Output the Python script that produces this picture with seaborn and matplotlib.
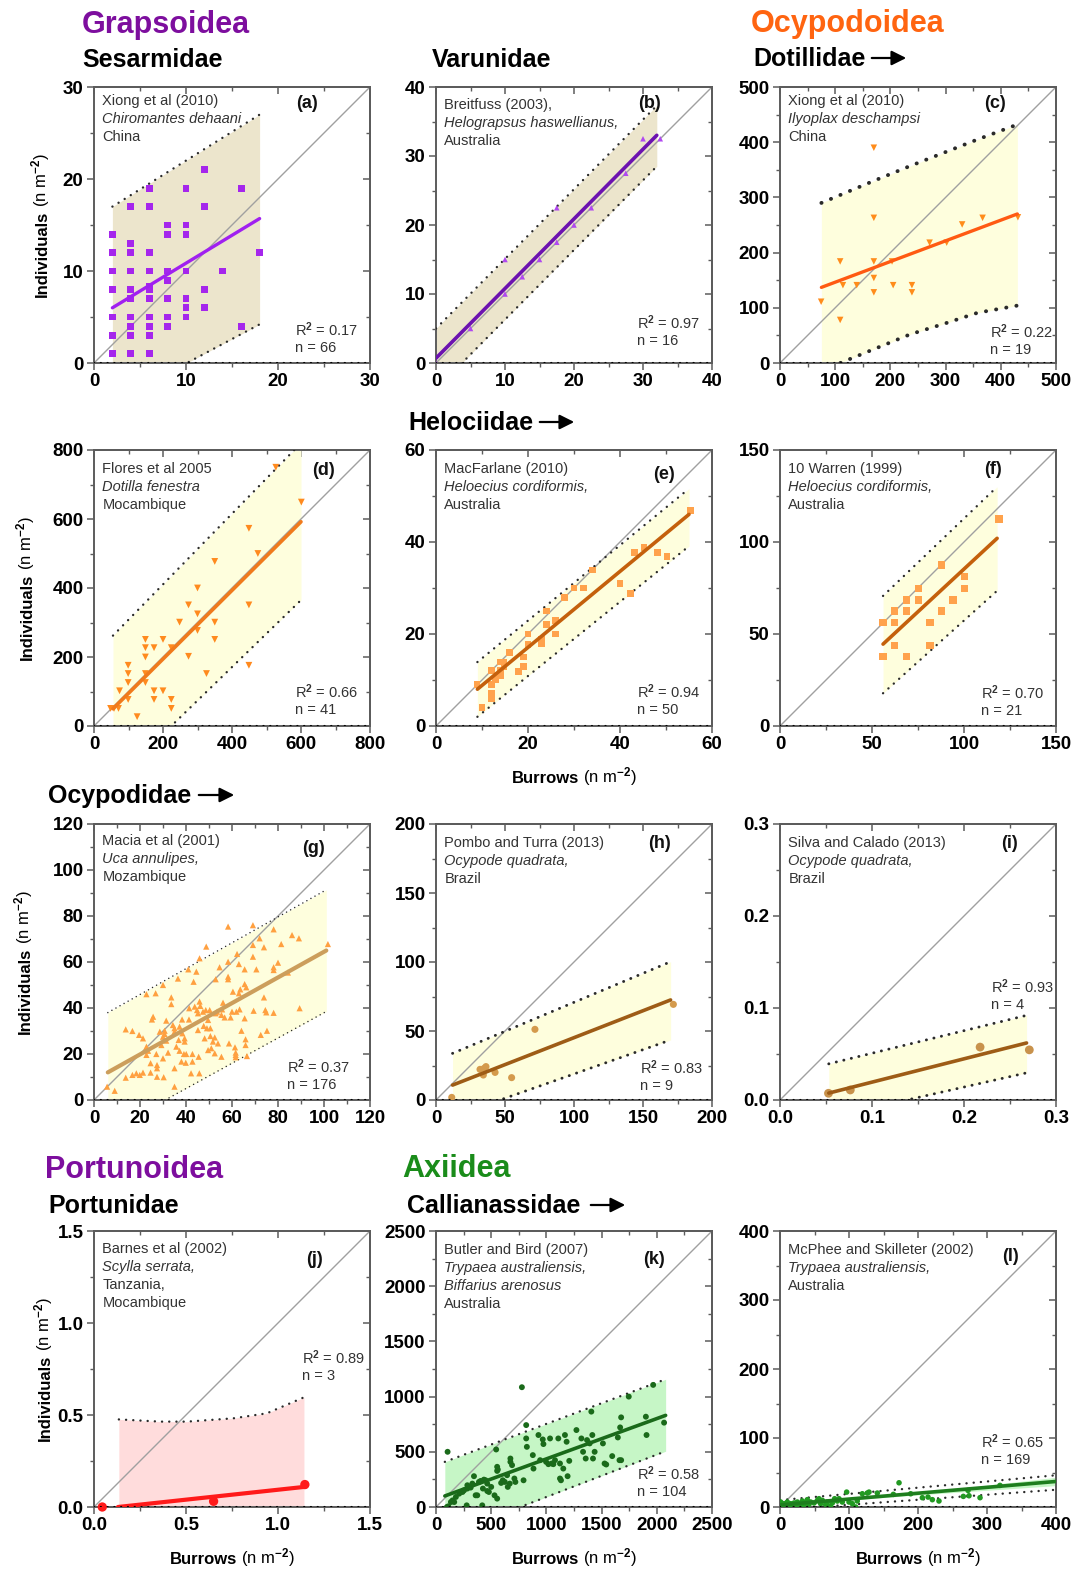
import matplotlib
matplotlib.use('Agg')
import matplotlib.pyplot as plt
import seaborn as sns
from matplotlib.ticker import MultipleLocator, NullFormatter, FormatStrFormatter
from matplotlib.patches import FancyArrowPatch

# ---------------- data ----------------
# (a) Sesarmidae - Xiong et al (2010)
a_pts = [(2, 14), (2, 12), (2, 10), (2, 8), (2, 5), (2, 3), (2, 1),
         (4, 17), (4, 13), (4, 12), (4, 10), (4, 8), (4, 7), (4, 5), (4, 4), (4, 3), (4, 1),
         (6, 19), (6, 17), (6, 12), (6, 10), (6, 8.3), (6, 8), (6, 7), (6, 5), (6, 4), (6, 3), (6, 1),
         (8, 15), (8, 14), (8, 10), (8, 9), (8, 7), (8, 5), (8, 4),
         (10, 19), (10, 15), (10, 14), (10, 10), (10, 7), (10, 6), (10, 5),
         (12, 21), (12, 17), (12, 8), (12, 6), (14, 10), (16, 19), (16, 4), (18, 12)]
a_fit_x, a_fit_y = [2, 18], [6.0, 15.7]
a_band_x, a_upper, a_lower = [2, 18], [17, 27], [-4.3, 4.2]

# (b) Varunidae - Breitfuss (2003)
b_pts = [(0, 0), (5, 5), (10, 15), (10, 10), (12.5, 12.5), (15, 15), (17.5, 22.5), (17.5, 17.5),
         (20, 20), (22.5, 22.5), (27.5, 27.5), (30, 32.5), (32.5, 32.5)]
b_fit_x, b_fit_y = [0, 32], [0.7, 33]
b_band_x, b_upper, b_lower = [0, 32], [5, 37.3], [-3.8, 28.5]

# (c) Dotillidae - Xiong et al (2010)
c_pts = [(74.5, 111), (109, 78), (109, 184), (114, 141), (139, 141), (170, 390), (170, 263),
         (170, 184), (170, 154), (170, 128), (203, 184), (205, 141), (239, 141), (239, 128),
         (271, 218), (302, 218), (330, 251), (367, 263), (431, 264)]
c_fit_x, c_fit_y = [75, 430], [137, 270]
c_band_x = [75, 170, 236, 297, 358, 430]
c_upper = [290, 330, 357, 381, 405, 432]
c_lower = [-14, 25, 52, 71, 91, 104]

# (d) Flores et al 2005
d_pts = [(48, 51), (58, 51), (71, 51), (74, 102), (99, 77), (99, 126), (99, 152), (99, 176),
         (125, 27), (149, 126), (149, 152), (149, 200), (149, 227), (149, 251), (174, 77),
         (174, 102), (174, 227), (200, 102), (200, 251), (224, 51), (224, 77), (224, 227),
         (248, 301), (274, 202), (274, 351), (300, 277), (300, 325), (300, 400), (326, 152),
         (350, 301), (350, 251), (350, 477), (449, 176), (449, 351), (449, 573), (475, 500),
         (527, 750), (601, 649)]
d_fit_x, d_fit_y = [55, 600], [50, 592]
d_band_x, d_upper, d_lower = [55, 600], [262, 820], [-164, 365]

# (e) MacFarlane (2010)
e_pts = [(8.9, 9), (10, 4), (12, 7), (12, 6), (12, 9), (12, 12), (12.9, 10), (13.2, 11),
         (14, 12), (14, 13.9), (14, 11), (14.8, 13), (14.8, 13.9), (16, 15.9), (18, 11.9),
         (19, 13), (19, 15), (20, 17.8), (20, 20), (23, 18), (23, 18.9), (24, 25), (24, 22),
         (26, 20), (26, 22.9), (28, 28), (30, 30), (32, 30), (34, 33.9), (40, 31), (42.2, 28.8),
         (43.2, 37.8), (45.2, 38.8), (48.1, 37.8), (50.2, 36.8), (55.3, 46.9)]
e_fit_x, e_fit_y = [9, 55], [8, 46]
e_band_x, e_upper, e_lower = [9, 55], [13.9, 51.6], [2, 39.1]

# (f) Warren (1999)
f_pts = [(56, 37.7), (56, 56.2), (62.4, 43.7), (62.4, 56.2), (62.4, 62.5), (68.7, 37.7),
         (68.7, 62.5), (68.7, 68.5), (75.1, 68.5), (75.1, 74.8), (81.5, 43.7), (81.5, 56.2),
         (87.6, 62.5), (87.6, 87.5), (94, 68.5), (100.4, 74.8), (100.4, 81.2), (119, 112.5)]
f_fit_x, f_fit_y = [56, 118], [44.5, 102]
f_band_x, f_upper, f_lower = [56, 118], [70.7, 130], [17.8, 73.5]

# (g) Macia et al (2001)
g_pts = [(5.7, 5.8), (9, 4), (13.8, 30.7), (13.8, 9.7), (16.7, 30), (16.7, 10.9), (18.4, 11.6),
         (19.6, 28.3), (19.9, 10.9), (21.3, 26.8), (21.3, 11.9), (22.8, 46), (22.8, 19.6),
         (22.8, 23.2), (23.5, 21.4), (24.6, 16), (24.6, 11.9), (25.2, 35), (25.7, 36.2),
         (26.8, 46.4), (27.1, 20), (27.4, 15.2), (27.4, 13.8), (27.4, 10.1), (28.6, 29.7),
         (29.3, 23.9), (30, 50), (30, 27.5), (30, 18.1), (30.3, 9.9), (30.7, 30.1), (30.7, 28.7),
         (31.4, 34.5), (31.4, 25.8), (32.2, 20.6), (33.6, 44.6), (33.6, 41.7), (34.3, 32.6),
         (35, 31.2), (35, 29.7), (35, 13.8), (35, 5.8), (35.8, 23.2), (36.5, 52.8), (36.8, 26.1),
         (37.2, 31.9), (37.2, 21.4), (38, 16.7), (38.3, 35), (38.4, 29), (39.1, 20), (39.4, 26.8),
         (39.4, 25.4), (39.9, 16.2), (40.1, 20), (41, 56.8), (41.3, 35), (41.4, 39.9), (42.2, 11.6),
         (42.8, 16.7), (42.8, 20), (43.3, 51.4), (43.8, 40.6), (44.5, 55.8), (44.8, 39.1),
         (45.2, 37.7), (45.2, 30.4), (45.5, 18.8), (45.8, 11.6), (45.9, 61.6), (45.9, 42.8),
         (46.2, 40.9), (47.4, 38.4), (47.7, 32.2), (48.1, 26.8), (48.6, 39.1), (48.8, 66.7),
         (49.1, 31.2), (49.6, 34.8), (49.6, 21.7), (50.3, 39.1), (50.6, 31.2), (50.6, 27.8),
         (51, 22.5), (51.7, 25.4), (52.5, 27.2), (52.5, 20.3), (52.9, 52.5), (52.9, 37.7),
         (53.5, 38.4), (53.9, 24.6), (54.6, 57.7), (55.4, 18.8), (55.4, 37), (55.7, 39.4),
         (56.1, 42.3), (56.8, 35.9), (58.3, 75.4), (58.3, 52.5), (58.3, 53.6), (58.3, 60.1),
         (58.7, 24.6), (59.4, 35.9), (60, 38.4), (60.4, 47.1), (61.3, 22.9), (61.6, 20.6),
         (61.6, 19.6), (61.6, 18.6), (61.9, 38.4), (62.2, 63.5), (63, 59.1), (63, 46.4),
         (63.3, 39.4), (63.6, 48.1), (64.1, 30.1), (65.5, 56.8), (65.5, 50.4), (65.5, 35.5),
         (65.9, 26.4), (65.9, 23.9), (66.2, 49), (66.5, 19.1), (69.1, 76), (69.1, 67.4),
         (69.1, 62.3), (69.4, 38.8), (70.6, 56.8), (72, 70.3), (72.5, 28.3), (73.9, 66.4),
         (73.9, 44.6), (74.5, 39.1), (74.9, 38.1), (75.2, 30.1), (78.1, 74.2), (78.1, 57.7),
         (78.1, 56.5), (78.1, 37.9), (80, 59.7), (81.4, 67.8), (84.3, 55.4), (86.1, 71.7),
         (89.1, 70.3), (89.4, 39.9), (101.7, 67.8)]
g_fit_x, g_fit_y = [6, 101], [12, 65]
g_band_x, g_upper, g_lower = [6, 101], [38, 91.4], [-13.7, 38.5]

# (h) Pombo and Turra (2013)
h_pts = [(11.4, 1.9), (31.9, 22.2), (34.3, 18.1), (34.8, 22.9), (36.2, 24.2), (42.8, 20),
         (54.8, 16.2), (71.7, 51.2), (172, 69.3)]
h_fit_x, h_fit_y = [12, 170], [10.8, 72.5]
h_band_x, h_upper, h_lower = [12, 170], [33.8, 100.2], [-12.1, 43.5]

# (i) Silva and Calado (2013)
i_pts = [(0.0527, 0.0073), (0.0764, 0.0109), (0.2175, 0.0575), (0.271, 0.0545)]
i_fit_x, i_fit_y = [0.053, 0.268], [0.0075, 0.062]
i_band_x, i_upper, i_lower = [0.053, 0.268], [0.0393, 0.092], [-0.0193, 0.0295]

# (j) Barnes et al (2002)
j_pts = [(0.045, 0.0), (0.65, 0.031), (1.146, 0.122)]
j_fit_x, j_fit_y = [0.13, 1.15], [0.0, 0.11]
j_band_x = [0.135, 0.361, 0.505, 0.758, 0.939, 1.141]
j_upper = [0.476, 0.464, 0.464, 0.482, 0.509, 0.596]
j_lower = [-0.3, -0.25, -0.24, -0.25, -0.28, -0.35]

# (k) Butler and Bird (2007)
k_pts = [(99, 0), (111, 6), (135, 45), (150, 60), (165, 45), (180, 91), (105, 500), (210, 121),
         (240, 136), (254, 151), (278, 15), (284, 197), (284, 167), (314, 176), (329, 212),
         (344, 279), (359, 106), (374, 106), (389, 227), (404, 236), (419, 15), (425, 167),
         (434, 248), (449, 242), (464, 212), (464, 145), (479, 136), (500, 182), (530, 106),
         (545, 521), (554, 76), (554, 364), (554, 327), (560, 339), (590, 218), (605, 242),
         (623, 227), (644, 288), (650, 182), (668, 212), (674, 439), (674, 409), (689, 379),
         (710, 258), (719, 227), (793, 242), (778, 1085), (817, 621), (817, 742), (823, 545),
         (877, 470), (883, 348), (928, 652), (943, 424), (967, 612), (973, 570), (997, 409),
         (1033, 621), (1018, 388), (1048, 394), (1063, 388), (1078, 424), (1108, 621),
         (1123, 394), (1123, 258), (1132, 242), (1153, 348), (1168, 652), (1183, 591),
         (1192, 279), (1207, 418), (1272, 697), (1317, 621), (1332, 500), (1356, 439),
         (1368, 606), (1392, 576), (1407, 864), (1416, 652), (1422, 439), (1437, 500),
         (1512, 576), (1527, 394), (1542, 385), (1596, 461), (1647, 630), (1662, 424),
         (1677, 424), (1668, 721), (1677, 812), (1746, 1000), (1901, 818), (1907, 652),
         (1967, 1106), (2066, 764)]
k_fit_x, k_fit_y = [80, 2080], [100, 830]
k_band_x, k_upper, k_lower = [80, 2080], [409, 1157], [-262, 505]

# (l) McPhee and Skilleter (2002)
l_pts = [(0, 2.4), (1, 7.2), (3.4, 0), (5.8, 4.8), (8.2, 2.4), (10.6, 7.2), (13, 2.4), (15.5, 4.8),
         (17.9, 1), (20.3, 5.8), (22.7, 2.4), (25.1, 7.2), (27.5, 1), (30, 4.8), (32.4, 8.7),
         (34.8, 2.4), (37.2, 5.8), (39.6, 10.6), (42, 3.8), (44.4, 7.2), (49.3, 5.8), (54.1, 9.6),
         (56.5, 12), (58.9, 4.8), (61.4, 9.6), (66.2, 3.8), (68.6, 7.2), (71, 1), (73.4, 0),
         (75.8, 5.8), (79.2, 12), (83.1, 8.7), (85.5, 12), (90.3, 7.2), (96.6, 21.6), (100, 7.2),
         (104.8, 4.8), (109.7, 0), (112, 8.7), (119.3, 19.2), (126.6, 20.2), (129, 21.6),
         (141, 20.2), (164.3, 18.3), (172.5, 35.1), (189.4, 19.2), (206.3, 13.5), (214.5, 14.4),
         (220.8, 10.6), (230.4, 8.7), (265.7, 15.4), (273.9, 16.3), (272.5, 24), (289.9, 13.5),
         (318.8, 31.3)]
l_fit_x, l_fit_y = [0, 400], [3, 37]
l_band_x, l_upper, l_lower = [0, 400], [10, 46], [-4, 25]
l_conf_x = [0, 60, 200, 400]
l_conf_lo = [1, 7, 17.5, 31]
l_conf_hi = [5, 9.2, 20.5, 43]

# ---------------- panel options ----------------
BEIGE, YELLOW, PINK, GREEN = '#ECE5CC', '#FEFEDD', '#FFDCDC', '#C6F6C6'

panels = [
    dict(key='a', col=0, row=0, pts=a_pts, lim=30, major=10, fmt='%d', marker='s', s=24,
         mc='#A526EC', lc='#A020F0', lw=2.4, fx=a_fit_x, fy=a_fit_y, bx=a_band_x, up=a_upper,
         lo=a_lower, fill=BEIGE, dot=1.7, r2='0.17', n='66', r2pos=(0.73, 0.12), lab=(0.77, 0.94),
         ny=0.948, notes=[('Xiong et al (2010)', 0), ('Chiromantes dehaani', 1), ('China', 0)]),
    dict(key='b', col=1, row=0, pts=b_pts, lim=40, major=10, fmt='%d', marker='^', s=16,
         mc='#B048F0', lc='#6C12B0', lw=2.6, fx=b_fit_x, fy=b_fit_y, bx=b_band_x, up=b_upper,
         lo=b_lower, fill=BEIGE, dot=1.7, r2='0.97', n='16', r2pos=(0.73, 0.145), lab=(0.775, 0.94),
         ny=0.935, notes=[('Breitfuss (2003),', 0), ('Helograpsus haswellianus,', 1), ('Australia', 0)]),
    dict(key='c', col=2, row=0, pts=c_pts, lim=500, major=100, fmt='%d', marker='v', s=22,
         mc='#FF8C1A', lc='#FF5A12', lw=2.4, fx=c_fit_x, fy=c_fit_y, bx=c_band_x, up=c_upper,
         lo=c_lower, fill=YELLOW, dot=2.8, r2='0.22', n='19', r2pos=(0.76, 0.112), lab=(0.78, 0.94),
         ny=0.948, notes=[('Xiong et al (2010)', 0), ('Ilyoplax deschampsi', 1), ('China', 0)]),
    dict(key='d', col=0, row=1, pts=d_pts, lim=800, major=200, fmt='%d', marker='v', s=24,
         mc='#FF8A1E', lc='#F07A1C', lw=2.6, fx=d_fit_x, fy=d_fit_y, bx=d_band_x, up=d_upper,
         lo=d_lower, fill=YELLOW, dot=1.7, r2='0.66', n='41', r2pos=(0.73, 0.123), lab=(0.83, 0.925),
         ny=0.932, notes=[('Flores et al 2005', 0), ('Dotilla fenestra', 1), ('Mocambique', 0)]),
    dict(key='e', col=1, row=1, pts=e_pts, lim=60, major=20, fmt='%d', marker='s', s=24,
         mc='#FFA24C', lc='#C4600C', lw=2.6, fx=e_fit_x, fy=e_fit_y, bx=e_band_x, up=e_upper,
         lo=e_lower, fill=YELLOW, dot=1.7, r2='0.94', n='50', r2pos=(0.73, 0.123), lab=(0.826, 0.91),
         ny=0.932, notes=[('MacFarlane (2010)', 0), ('Heloecius cordiformis,', 1), ('Australia', 0)]),
    dict(key='f', col=2, row=1, pts=f_pts, lim=150, major=50, fmt='%d', marker='s', s=26,
         mc='#FFA24C', lc='#C4600C', lw=2.6, fx=f_fit_x, fy=f_fit_y, bx=f_band_x, up=f_upper,
         lo=f_lower, fill=YELLOW, dot=1.7, r2='0.70', n='21', r2pos=(0.73, 0.12), lab=(0.77, 0.93),
         ny=0.932, notes=[('10 Warren (1999)', 0), ('Heloecius cordiformis,', 1), ('Australia', 0)]),
    dict(key='g', col=0, row=2, pts=g_pts, lim=120, major=20, fmt='%d', marker='^', s=20,
         mc='#FFA040', lc='#CC9E5C', lw=3.0, fx=g_fit_x, fy=g_fit_y, bx=g_band_x, up=g_upper,
         lo=g_lower, fill=YELLOW, dot=1.1, r2='0.37', n='176', r2pos=(0.70, 0.12), lab=(0.795, 0.913),
         ny=0.938, notes=[('Macia et al (2001)', 0), ('Uca annulipes,', 1), ('Mozambique', 0)]),
    dict(key='h', col=1, row=2, pts=h_pts, lim=200, major=50, fmt='%d', marker='o', s=26,
         mc='#D49A4C', lc='#9E5C16', lw=2.6, fx=h_fit_x, fy=h_fit_y, bx=h_band_x, up=h_upper,
         lo=h_lower, fill=YELLOW, dot=2.1, r2='0.83', n='9', r2pos=(0.74, 0.116), lab=(0.81, 0.93),
         ny=0.932, notes=[('Pombo and Turra (2013)', 0), ('Ocypode quadrata,', 1), ('Brazil', 0)]),
    dict(key='i', col=2, row=2, pts=i_pts, lim=0.3, major=0.1, fmt='%.1f', marker='o', s=40,
         mc='#C8924C', lc='#9E5C16', lw=2.6, fx=i_fit_x, fy=i_fit_y, bx=i_band_x, up=i_upper,
         lo=i_lower, fill=YELLOW, dot=2.1, r2='0.93', n='4', r2pos=(0.765, 0.41), lab=(0.83, 0.93),
         ny=0.932, notes=[('Silva and Calado (2013)', 0), ('Ocypode quadrata,', 1), ('Brazil', 0)]),
    dict(key='j', col=0, row=3, pts=j_pts, lim=1.5, major=0.5, fmt='%.1f', marker='o', s=45,
         mc='#FF1A1A', lc='#FF1A1A', lw=3.0, fx=j_fit_x, fy=j_fit_y, bx=j_band_x, up=j_upper,
         lo=j_lower, fill=PINK, dot=1.7, r2='0.89', n='3', r2pos=(0.753, 0.54), lab=(0.80, 0.895),
         ny=0.935, notes=[('Barnes et al (2002)', 0), ('Scylla serrata,', 1), ('Tanzania,', 0),
                          ('Mocambique', 0)]),
    dict(key='k', col=1, row=3, pts=k_pts, lim=2500, major=500, fmt='%d', marker='o', s=18,
         mc='#1A6A1A', lc='#1A6A1A', lw=2.6, fx=k_fit_x, fy=k_fit_y, bx=k_band_x, up=k_upper,
         lo=k_lower, fill=GREEN, dot=1.7, r2='0.58', n='104', r2pos=(0.73, 0.12), lab=(0.79, 0.895),
         ny=0.932, notes=[('Butler and Bird (2007)', 0), ('Trypaea australiensis,', 1),
                          ('Biffarius arenosus', 1), ('Australia', 0)]),
    dict(key='l', col=2, row=3, pts=l_pts, lim=400, major=100, fmt='%d', marker='o', s=16,
         mc='#229922', lc='#1E7E1E', lw=2.6, fx=l_fit_x, fy=l_fit_y, bx=l_band_x, up=l_upper,
         lo=l_lower, fill=None, dot=1.7, r2='0.65', n='169', r2pos=(0.73, 0.235), lab=(0.835, 0.906),
         ny=0.932, notes=[('McPhee and Skilleter (2002)', 0), ('Trypaea australiensis,', 1),
                          ('Australia', 0)]),
]

# ---------------- style ----------------
sns.set_theme(style='ticks')
plt.rcParams['font.family'] = ['Liberation Sans', 'DejaVu Sans']
plt.rcParams['font.weight'] = 'bold'
plt.rcParams['mathtext.fontset'] = 'custom'
plt.rcParams['mathtext.rm'] = 'Liberation Sans'
plt.rcParams['mathtext.it'] = 'Liberation Sans:italic'

W, H = 1074, 1569
col_x = [94, 436, 780]
row_y = [87, 450, 824, 1231]
SIDE = 276
SPINE = '#5c5c5c'

fig = plt.figure(figsize=(W / 100, H / 100), dpi=100)
renderer = fig.canvas.get_renderer()


def two_part_label(ax, bold, rest, pos, vertical):
    """Bold word followed by a regular unit part, centred on the axis side."""
    kw = dict(transform=ax.transAxes, fontsize=12, color='black',
              rotation=90 if vertical else 0, rotation_mode='anchor',
              ha='left', va='baseline')
    t1 = ax.text(0, 0, bold, fontweight='bold', **kw)
    t2 = ax.text(0, 0, rest, fontweight='normal', **kw)
    e1, e2 = t1.get_window_extent(renderer), t2.get_window_extent(renderer)
    gap = 4
    if vertical:
        l1, l2 = e1.height, e2.height
    else:
        l1, l2 = e1.width, e2.width
    start = 0.5 - (l1 + gap + l2) / 2 / SIDE
    second = start + (l1 + gap) / SIDE
    if vertical:
        t1.set_position((pos, start))
        t2.set_position((pos, second))
    else:
        t1.set_position((start, pos))
        t2.set_position((second, pos))


for p in panels:
    ax = fig.add_axes([col_x[p['col']] / W, 1 - (row_y[p['row']] + SIDE) / H, SIDE / W, SIDE / H])
    lim = p['lim']
    ax.set_xlim(0, lim)
    ax.set_ylim(0, lim)

    # prediction band fill
    if p['key'] == 'l':
        ax.fill_between(l_conf_x, l_conf_lo, l_conf_hi, color=GREEN, lw=0, zorder=1)
    elif p['key'] == 'j':
        ax.fill_between(p['bx'], 0, p['up'], color=p['fill'], lw=0, zorder=1)
    else:
        ax.fill_between(p['bx'], p['lo'], p['up'], color=p['fill'], lw=0, zorder=1)

    # 1:1 line
    ax.axline((0, 0), slope=1, color='#a0a0a0', lw=1.0, zorder=2)

    # dotted prediction limits
    gap = 3.0 if p['dot'] < 2 else 2.6
    for band in (p['up'], p['lo']):
        ax.plot(p['bx'], band, ls=(0, (0.05, gap)), lw=p['dot'], color='#2a2a2a',
                dash_capstyle='round', zorder=3)

    # zero line (dotted)
    ax.axhline(0, ls=(0, (0.05, 3.0)), lw=1.6, color='black', dash_capstyle='round', zorder=6)

    # points and regression line
    xs, ys = zip(*p['pts'])
    sns.scatterplot(x=list(xs), y=list(ys), ax=ax, marker=p['marker'], s=p['s'], color=p['mc'],
                    edgecolor='none', linewidth=0, zorder=4, clip_on=(p['key'] != 'j'))
    sns.lineplot(x=p['fx'], y=p['fy'], ax=ax, color=p['lc'], lw=p['lw'], zorder=5)

    # ticks
    for axis in (ax.xaxis, ax.yaxis):
        axis.set_major_locator(MultipleLocator(p['major']))
        axis.set_minor_locator(MultipleLocator(p['major'] / 2))
        axis.set_major_formatter(FormatStrFormatter(p['fmt']))
    ax.tick_params(which='major', direction='out', length=5, width=1.1, color=SPINE,
                   labelsize=13.5, pad=2.5, labelcolor='black')
    ax.tick_params(which='minor', direction='out', length=3, width=1.0, color=SPINE)
    for sp in ax.spines.values():
        sp.set_visible(True)
        sp.set_color(SPINE)
        sp.set_linewidth(1.4)

    # inward mirror ticks on top and right
    top = ax.secondary_xaxis('top')
    right = ax.secondary_yaxis('right')
    for sec, axis in ((top, top.xaxis), (right, right.yaxis)):
        axis.set_major_locator(MultipleLocator(p['major']))
        axis.set_minor_locator(MultipleLocator(p['major'] / 2))
        axis.set_major_formatter(NullFormatter())
        sec.tick_params(which='major', direction='in', length=5, width=1.1, color=SPINE)
        sec.tick_params(which='minor', direction='in', length=3, width=1.0, color=SPINE)
        for sp in sec.spines.values():
            sp.set_color(SPINE)
            sp.set_linewidth(1.4)

    # texts
    for i, (txt, it) in enumerate(p['notes']):
        ax.text(0.03, p['ny'] - i * 0.065, txt, transform=ax.transAxes, fontsize=10.5,
                fontweight='normal', style='italic' if it else 'normal', color='#333333',
                va='center', ha='left', zorder=7)
    ax.text(*p['lab'], '(' + p['key'] + ')', transform=ax.transAxes, fontsize=13,
            fontweight='bold', ha='center', va='center', color='#111111')
    rx, ry = p['r2pos']
    ax.text(rx, ry, 'R$^{2}$ = ' + p['r2'], transform=ax.transAxes, fontsize=10.5,
            fontweight='normal', color='#333333', ha='left', va='center')
    ax.text(rx, ry - 0.065, 'n = ' + p['n'], transform=ax.transAxes, fontsize=10.5,
            fontweight='normal', color='#333333', ha='left', va='center')

    ax.set_xlabel('')
    ax.set_ylabel('')
    if p['col'] == 0:
        two_part_label(ax, 'Individuals', '(n m$^{-2}$)',
                       {0: -0.172, 1: -0.226, 2: -0.234, 3: -0.16}[p['row']], True)
    if p['key'] in ('e', 'j', 'k', 'l'):
        two_part_label(ax, 'Burrows', '(n m$^{-2}$)', -0.205, False)

# ---------------- group headings ----------------
def heading(x, y_base, text, size, color='black'):
    fig.text(x / W, 1 - y_base / H, text, fontsize=size, fontweight='bold', color=color,
             ha='left', va='baseline')


def arrow(x0, x1, y):
    fig.add_artist(FancyArrowPatch((x0 / W, 1 - y / H), (x1 / W, 1 - y / H),
                                   transform=fig.transFigure, arrowstyle='-|>',
                                   mutation_scale=22, lw=1.6, color='black'))


heading(82, 33, 'Grapsoidea', 22, '#7D0E9E')
heading(82, 67, 'Sesarmidae', 18)
heading(432, 67, 'Varunidae', 18)
heading(751, 32, 'Ocypodoidea', 22, '#FF6410')
heading(753, 66, 'Dotillidae', 18)
arrow(869, 909, 58)
heading(408, 430, 'Helociidae', 18)
arrow(537, 577, 422)
heading(48, 803, 'Ocypodidae', 18)
arrow(196, 237, 795)
heading(45, 1178, 'Portunoidea', 22, '#7D0E9E')
heading(48, 1213, 'Portunidae', 18)
heading(402, 1177, 'Axiidea', 22, '#1A8C1A')
heading(407, 1213, 'Callianassidae', 18)
arrow(588, 628, 1205)

fig.savefig('out.png', dpi=100)
